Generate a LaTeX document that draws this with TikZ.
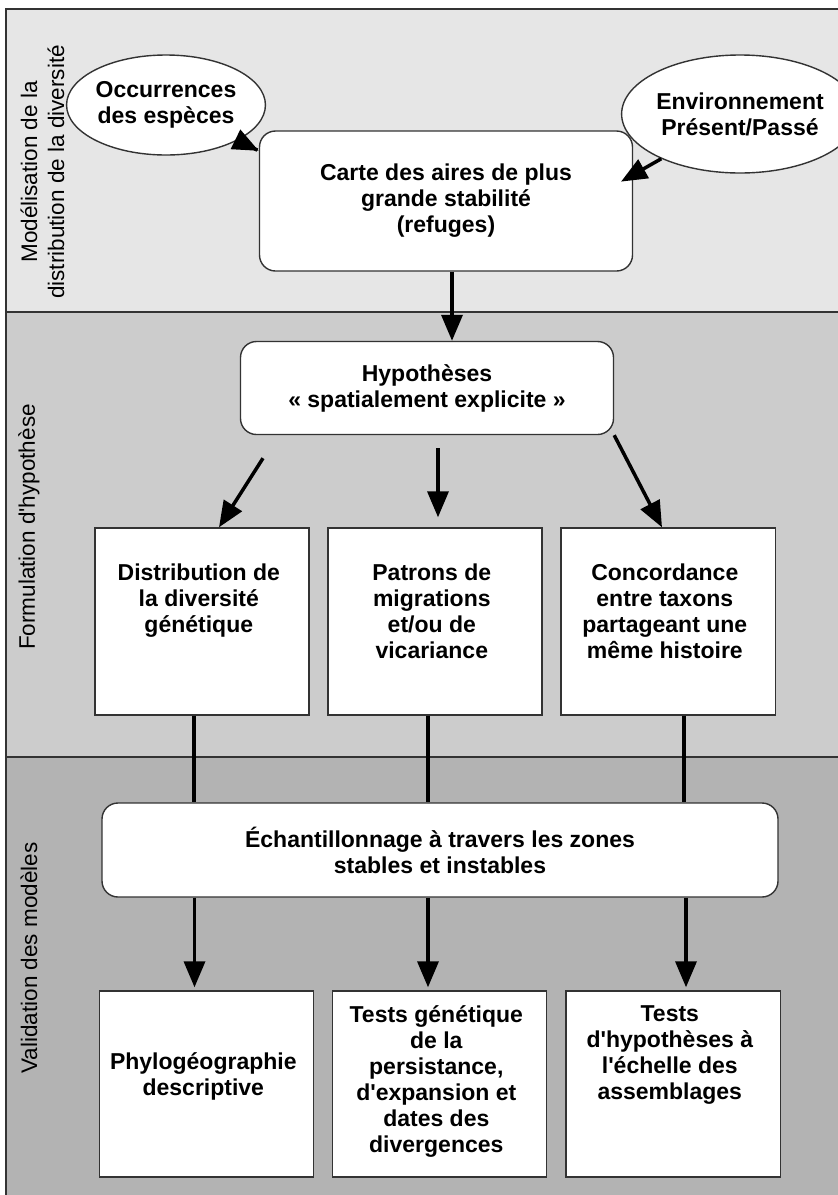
\documentclass[tikz,border=0pt]{standalone}
\usepackage{fontspec}
\setmainfont{Liberation Sans}[Ligatures=TeXOff]
\usetikzlibrary{shapes.geometric,arrows.meta}
\definecolor{bandtop}{HTML}{E6E6E6}
\definecolor{bandmid}{HTML}{CCCCCC}
\definecolor{bandlow}{HTML}{B3B3B3}
\definecolor{edge}{HTML}{333333}
\newcommand{\toptext}[2] {
    \parbox[c][93pt][t]{104pt}{\centering\vspace*{#1}#2}
}
\tikzset{
    frame/.style={draw=edge,line width=0.9pt},
    band/.style={font=\fontsize{11.25}{13.5}\selectfont,align=center,inner sep=0pt},
    bold/.style={font=\fontsize{11.5}{13}\selectfont\bfseries,align=center},
    oval/.style={bold,draw=edge,fill=white,ellipse,line width=0.7pt,inner sep=0pt},
    rbox/.style={bold,draw=edge,fill=white,rounded corners=8pt,line width=0.7pt,inner sep=0pt},
    sbox/.style={bold,draw=edge,fill=white,line width=0.7pt,inner sep=0pt,
        minimum width=105pt,minimum height=93.5pt},
    arr/.style={line width=1.75pt,-{Triangle[length=13pt,width=10.5pt]}},
    link/.style={line width=1.75pt}
}
\begin{document}
\begin{tikzpicture}[x=0.5pt,y=-0.5pt]
    \useasboundingbox (0,0) rectangle (838,1195);
    % bands
    \fill[bandtop] (6,9) rectangle (838,312);
    \fill[bandmid] (6,312) rectangle (838,757);
    \fill[bandlow] (6,757) rectangle (838,1195);
    \draw[frame] (6,1195) -- (6,9) -- (838,9);
    \draw[frame] (6,312) -- (838,312);
    \draw[frame] (6,757) -- (838,757);
    \node[band,rotate=90] (tmodel) at (42.5,172) {Modélisation de la\\distribution de la diversité};
    \node[band,rotate=90] (thypo) at (29,527) {Formulation d'hypothèse};
    \node[band,rotate=90] (tvalid) at (29,958) {Validation des modèles};
    % modelling
    \node[oval,minimum width=94pt,minimum height=50pt] (occ) at (166,105) {Occurrences\\des espèces};
    \node[oval,minimum width=98pt,minimum height=59pt] (env) at (740,114) {Environnement\\Présent/Passé};
    \node[rbox,minimum width=186.5pt,minimum height=70pt] (carte) at (446,201)
        {Carte des aires de plus\\grande stabilité\\(refuges)};
    \draw[arr,shorten <=-11pt] (occ) -- (carte.165);
    \draw[arr,shorten >=-7pt] (env) -- (carte.8);
    % hypotheses
    \node[rbox,minimum width=186.5pt,minimum height=46.5pt] (hyp) at (427,388)
        {Hypothèses\\« spatialement explicite »};
    \draw[arr] ([xshift=3pt]carte.south) -- ([xshift=3pt]carte.south |- hyp.north);
    \node[sbox] (dist) at (202,621.5) {\toptext{17.5pt}{Distribution de\\la diversité\\génétique}};
    \node[sbox] (patr) at (435,621.5) {\toptext{17.5pt}{Patrons de\\migrations\\et/ou de\\vicariance}};
    \node[sbox] (conc) at (668,621.5) {\toptext{17.5pt}{Concordance\\entre taxons\\partageant une\\même histoire}};
    \draw[arr] ([xshift=-82pt,yshift=-11.5pt]hyp.south) -- ([xshift=8.5pt]dist.north);
    \draw[arr] ([xshift=5.5pt,yshift=-6.5pt]hyp.south) -- ([xshift=1.5pt,yshift=5pt]patr.north);
    \draw[arr] (hyp.south east) -- ([xshift=-3pt]conc.north);
    % validation
    \node[rbox,minimum width=338pt,minimum height=47pt] (ech) at (440,850)
        {Échantillonnage à travers les zones\\stables et instables};
    \node[sbox,minimum width=104.5pt,minimum height=93pt] (phylo) at (206.5,1084)
        {\toptext{31pt}{Phylogéographie\\descriptive}};
    \node[sbox,minimum width=104.5pt,minimum height=93pt] (tests) at (439.5,1084)
        {\toptext{7.5pt}{Tests génétique\\de la\\persistance,\\d'expansion et\\dates des\\divergences}};
    \node[sbox,minimum width=104.5pt,minimum height=93pt] (assem) at (673,1084)
        {\toptext{7.5pt}{Tests\\d'hypothèses à\\l'échelle des\\assemblages}};
    \foreach \up/\dx in {dist/-4pt,patr/-3.5pt,conc/8pt}
        \draw[link] ([xshift=\dx]\up.south) -- ([xshift=\dx]\up.south |- ech.north);
    \foreach \down/\dx in {phylo/-6pt,tests/-5.75pt,assem/6.5pt}
        \draw[arr] ([xshift=\dx]\down.north |- ech.south) -- ([xshift=\dx,yshift=1.5pt]\down.north);
\end{tikzpicture}
\end{document}
